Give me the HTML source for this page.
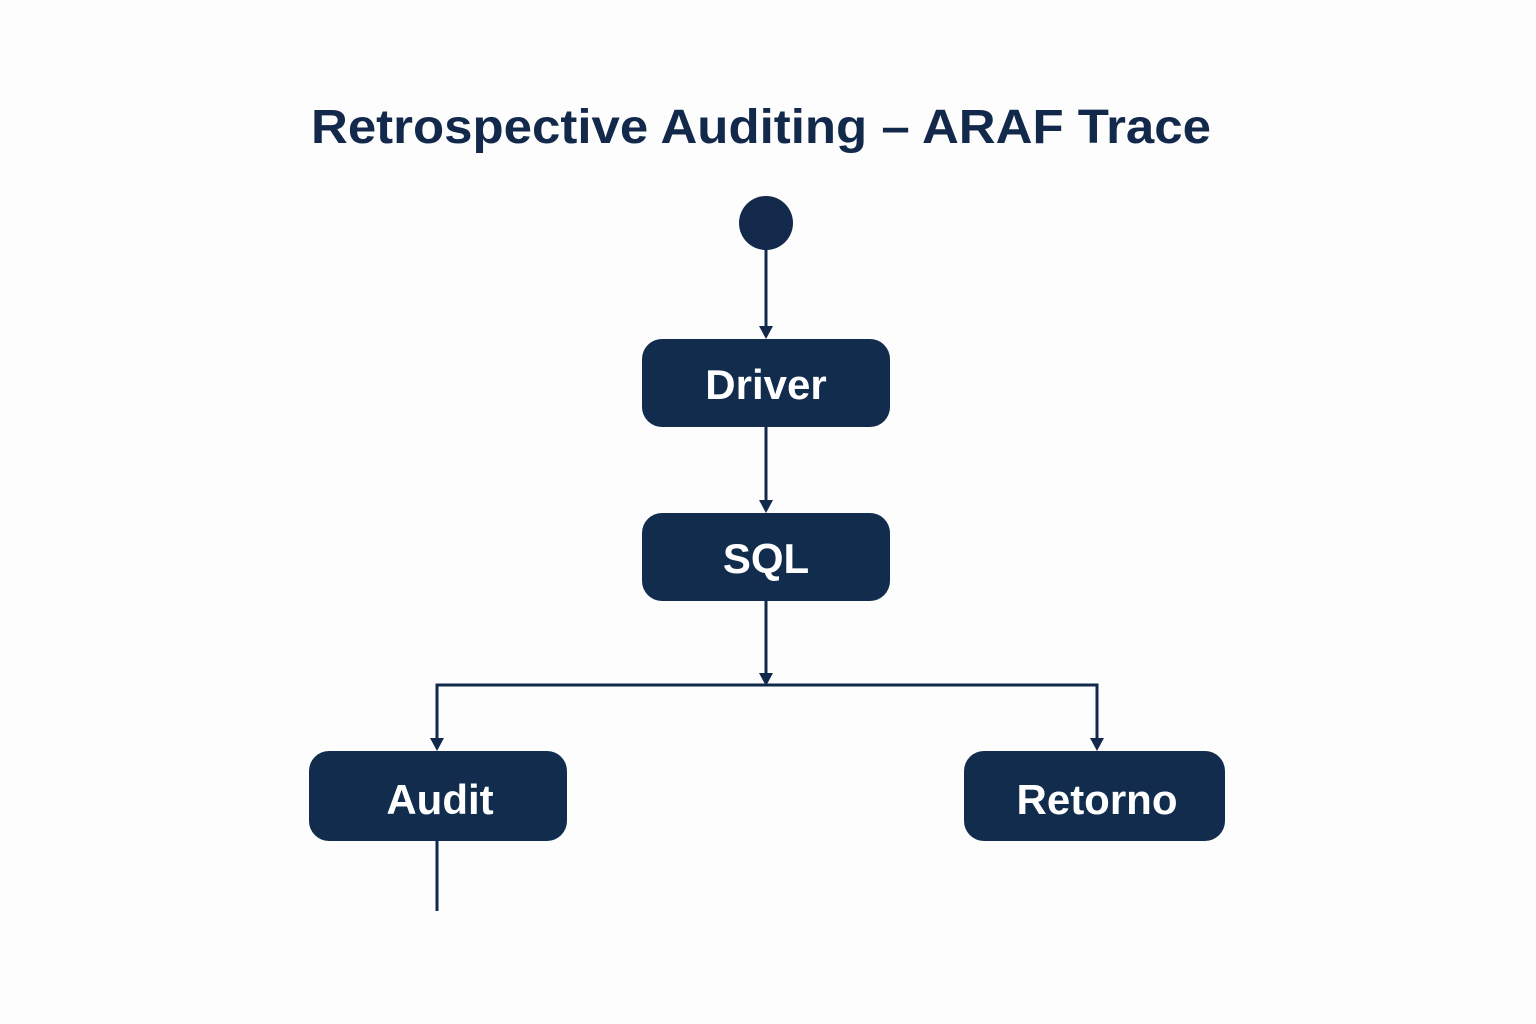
<!DOCTYPE html>
<html><head><meta charset="utf-8"><style>
html,body{margin:0;padding:0;background:#fdfdfd;}
svg{display:block;}
text{font-family:"Liberation Sans","DejaVu Sans",sans-serif;}
</style></head><body>
<svg width="1536" height="1024" viewBox="0 0 1536 1024" xmlns="http://www.w3.org/2000/svg">
<rect width="1536" height="1024" fill="#fdfdfd"/>
<text x="761" y="143" text-anchor="middle" font-size="48" font-weight="bold" fill="#13294b" textLength="900" lengthAdjust="spacingAndGlyphs">Retrospective Auditing – ARAF Trace</text>
<g stroke="#13294b" stroke-width="3" fill="none">
<line x1="766" y1="240" x2="766" y2="328"/>
<line x1="766" y1="427" x2="766" y2="502"/>
<line x1="766" y1="601" x2="766" y2="675"/>
<polyline points="437,740 437,685 1097,685 1097,740"/>
<line x1="437" y1="841" x2="437" y2="911"/>
</g>
<g fill="#13294b">
<circle cx="766" cy="223" r="27"/>
<polygon points="759,326 773,326 766,339"/>
<polygon points="759,500 773,500 766,513"/>
<polygon points="759,673 773,673 766,686"/>
<polygon points="430,738 444,738 437,751"/>
<polygon points="1090,738 1104,738 1097,751"/>
<rect x="642" y="339" width="248" height="88" rx="20" fill="#112c4d"/>
<rect x="642" y="513" width="248" height="88" rx="20" fill="#112c4d"/>
<rect x="309" y="751" width="258" height="90" rx="20" fill="#112c4d"/>
<rect x="964" y="751" width="261" height="90" rx="20" fill="#112c4d"/>
</g>
<g fill="#ffffff" font-size="42" font-weight="bold" text-anchor="middle">
<text x="766" y="399">Driver</text>
<text x="766" y="573">SQL</text>
<text x="440" y="814">Audit</text>
<text x="1097" y="814">Retorno</text>
</g>
</svg>
</body></html>
